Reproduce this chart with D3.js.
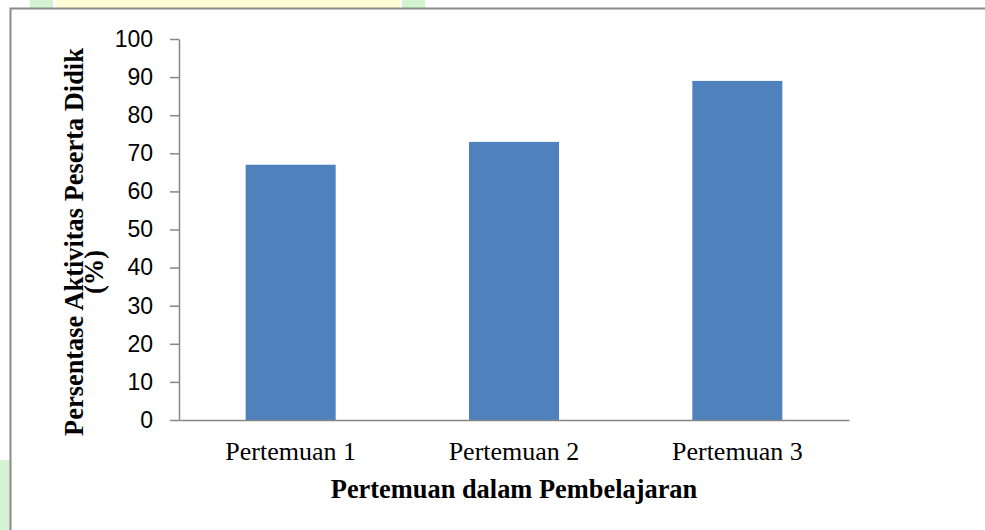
<!DOCTYPE html>
<html>
<head>
<meta charset="utf-8">
<script src="https://cdn.jsdelivr.net/npm/d3@7"></script>
<style>
  body { margin: 0; background: #fff; }
  svg { display: block; }
</style>
</head>
<body>
<svg id="chart" width="985" height="530"></svg>
<script>
// chart data
const categories = ["Pertemuan 1", "Pertemuan 2", "Pertemuan 3"];
const values = [67, 73, 89];
const yTicks = [0, 10, 20, 30, 40, 50, 60, 70, 80, 90, 100];
const xTitle = "Pertemuan dalam Pembelajaran";
const yTitleLines = ["Persentase Aktivitas Peserta Didik", "(%)"];

const svg = d3.select("#chart");
const W = 985, H = 530;
const plot = { left: 179, right: 849, top: 39, bottom: 420 };

svg.append("rect").attr("width", W).attr("height", H).attr("fill", "#fff");

// faint background patches from the scanned page
svg.append("rect").attr("x", 30).attr("y", 0).attr("width", 23).attr("height", 8).attr("fill", "#d3f3d0");
svg.append("rect").attr("x", 56).attr("y", 0).attr("width", 344).attr("height", 8).attr("fill", "#fffcd6");
svg.append("rect").attr("x", 402).attr("y", 0).attr("width", 23).attr("height", 8).attr("fill", "#d3f3d0");
svg.append("rect").attr("x", 0).attr("y", 460).attr("width", 10).attr("height", 70).attr("fill", "#d6f3d3");

// chart frame (runs off right and bottom)
svg.append("rect")
  .attr("x", 10.5).attr("y", 8.5)
  .attr("width", 1000).attr("height", 600)
  .attr("fill", "none")
  .attr("stroke", "#8a8a8a")
  .attr("stroke-width", 2);

// scales
const x = d3.scaleBand()
  .domain(categories)
  .range([plot.left, plot.right])
  .paddingInner(0.597)
  .paddingOuter(0.2985);

const y = d3.scaleLinear()
  .domain([0, 100])
  .range([plot.bottom, plot.top]);

// bars
svg.append("g")
  .selectAll("rect")
  .data(values)
  .enter()
  .append("rect")
    .attr("x", (d, i) => x(categories[i]))
    .attr("y", d => y(d))
    .attr("width", x.bandwidth())
    .attr("height", d => y(0) - y(d))
    .attr("fill", "#4f81bd");

// y axis
const yAxis = svg.append("g")
  .attr("transform", `translate(${plot.left},0)`)
  .call(d3.axisLeft(y).tickValues(yTicks).tickSize(9).tickSizeOuter(0).tickPadding(17));
yAxis.selectAll("text")
  .attr("font-family", "'Liberation Sans', Arial, sans-serif")
  .attr("font-size", 23)
  .attr("fill", "#000");

// x axis
const xAxis = svg.append("g")
  .attr("transform", `translate(0,${plot.bottom})`)
  .call(d3.axisBottom(x).tickSize(0).tickSizeOuter(0).tickPadding(22));
xAxis.selectAll("text")
  .attr("font-family", "'Liberation Serif', 'Times New Roman', serif")
  .attr("font-size", 26)
  .attr("fill", "#000");

svg.selectAll(".domain, .tick line")
  .attr("stroke", "#868686")
  .attr("stroke-width", 1.5);

// axis titles
svg.append("text")
  .attr("x", (plot.left + plot.right) / 2)
  .attr("y", 498)
  .attr("text-anchor", "middle")
  .attr("font-family", "'Liberation Serif', 'Times New Roman', serif")
  .attr("font-weight", "bold")
  .attr("font-size", 26.4)
  .text(xTitle);

const yTitle = svg.append("g");
yTitle.append("text")
  .attr("transform", "translate(83,242) rotate(-90)")
  .attr("text-anchor", "middle")
  .attr("font-family", "'Liberation Serif', 'Times New Roman', serif")
  .attr("font-weight", "bold")
  .attr("font-size", 26.4)
  .text(yTitleLines[0]);
yTitle.append("text")
  .attr("transform", "translate(103,272) rotate(-90)")
  .attr("text-anchor", "middle")
  .attr("font-family", "'Liberation Serif', 'Times New Roman', serif")
  .attr("font-weight", "bold")
  .attr("font-size", 26.4)
  .text(yTitleLines[1]);
</script>
</body>
</html>
